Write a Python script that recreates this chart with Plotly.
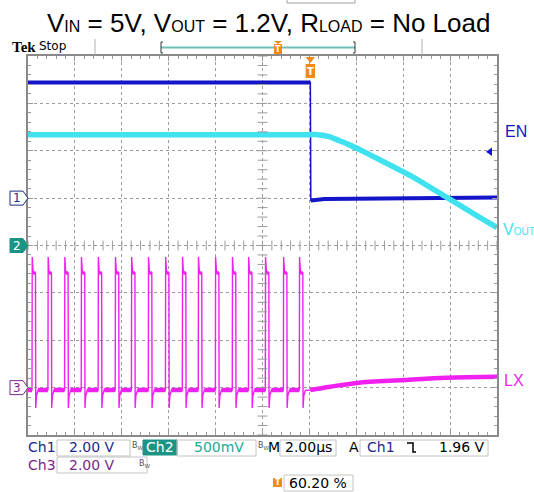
import numpy as np
import plotly.graph_objects as go

# ---------------- data ----------------
time_per_div_us = 2.0
n_hdiv, n_vdiv = 10, 8
trigger_pos_pct = 60.20
ch1_volts_per_div, ch1_ground_div = 2.0, 5.0
ch2_volts_per_div, ch2_ground_div = 0.5, 4.0
ch3_volts_per_div, ch3_ground_div = 2.0, 1.0
trigger_level_v = 1.96

t_min = -trigger_pos_pct / 100 * n_hdiv * time_per_div_us
t_max = t_min + n_hdiv * time_per_div_us

# CH1: EN (V)
en_high_t = [t_min, 0.0]
en_high_v = [4.88, 4.88]
en_low_t = [0.02, 0.6, t_max]
en_low_v = [-0.10, -0.04, 0.03]

# CH2: VOUT (V)
vout_t = [t_min, 0.0, 0.3, 0.8, 1.2, 1.6, 2.2, 3.0, 4.4, 5.8, 7.2, t_max]
vout_v = [1.17, 1.17, 1.17, 1.15, 1.11, 1.07, 1.00, 0.90, 0.72, 0.51, 0.30, 0.19]

# CH3: LX (V) - switching pulses then tail
lx_rise_t = [-11.87, -11.19, -10.48, -9.77, -9.05, -8.32, -7.63, -6.91, -6.18,
             -5.46, -4.78, -4.05, -3.33, -2.64, -1.92, -1.15, -0.47]
lx_pulse_rel_t = [0.0, 0.01, 0.05, 0.15, 0.16, 0.19, 0.26]
lx_pulse_rel_v = [-0.10, 5.51, 4.84, 4.84, -0.86, -0.35, -0.10]
lx_low_v = -0.10
lx_tail_t = [-0.21, 0.0, 0.85, 2.0, 4.0, 5.8, t_max]
lx_tail_v = [-0.12, -0.10, 0.04, 0.20, 0.32, 0.42, 0.46]

# colours
C_EN = "#1414c8"
C_VOUT = "#40e2f0"
C_LX = "#f020f0"
C_CH1TXT = "#1e2a8a"
C_CH3TXT = "#7a2a8a"
C_TEAL = "#1a9585"
C_ORANGE = "#f08a1c"
C_FRAME = "#8a8a8a"

# ---------------- helpers ----------------
W, H = 534, 492
PL, PR, PT, PB = 28, 497, 56, 435


def PX(x):
    return (x - PL) / (PR - PL)


def PY(y):
    return (PB - y) / (PB - PT)


def to_div(v, ground, scale):
    return [None if a is None else ground + a / scale for a in v]


# LX waveform assembled from the pulse list
lx_t, lx_v = [t_min], [lx_low_v]
low_t, low_v, high_t, high_v = [t_min], [lx_low_v], [], []
for t0 in lx_rise_t:
    low_t += [t0, None]
    low_v += [lx_low_v, None]
    for rt, rv in zip(lx_pulse_rel_t, lx_pulse_rel_v):
        lx_t.append(t0 + rt)
        lx_v.append(rv)
    high_t += [t0 + lx_pulse_rel_t[2], t0 + lx_pulse_rel_t[3], None]
    high_v += [lx_pulse_rel_v[2], lx_pulse_rel_v[3], None]
    low_t.append(t0 + lx_pulse_rel_t[-1])
    low_v.append(lx_low_v)
low_t = low_t[:-1]
low_v = low_v[:-1]
lx_t += lx_tail_t
lx_v += lx_tail_v

fig = go.Figure()

# CH1 EN
fig.add_trace(go.Scatter(x=en_high_t + en_low_t, y=to_div(en_high_v + en_low_v, ch1_ground_div, ch1_volts_per_div),
                         mode="lines", line=dict(color=C_EN, width=1.5), hoverinfo="skip"))
fig.add_trace(go.Scatter(x=en_high_t + [None] + en_low_t,
                         y=to_div(en_high_v + [None] + en_low_v, ch1_ground_div, ch1_volts_per_div),
                         mode="lines", line=dict(color=C_EN, width=4), hoverinfo="skip"))
# CH2 VOUT
fig.add_trace(go.Scatter(x=vout_t, y=to_div(vout_v, ch2_ground_div, ch2_volts_per_div),
                         mode="lines", line=dict(color=C_VOUT, width=5.5, shape="spline", smoothing=0.6),
                         hoverinfo="skip"))
# CH3 LX
fig.add_trace(go.Scatter(x=lx_t, y=to_div(lx_v, ch3_ground_div, ch3_volts_per_div),
                         mode="lines", line=dict(color=C_LX, width=1.4), hoverinfo="skip"))
fig.add_trace(go.Scatter(x=low_t, y=to_div(low_v, ch3_ground_div, ch3_volts_per_div),
                         mode="lines", line=dict(color=C_LX, width=4.5), hoverinfo="skip"))
fig.add_trace(go.Scatter(x=high_t, y=to_div(high_v, ch3_ground_div, ch3_volts_per_div),
                         mode="lines", line=dict(color=C_LX, width=3.5), hoverinfo="skip"))
fig.add_trace(go.Scatter(x=lx_tail_t[1:], y=to_div(lx_tail_v[1:], ch3_ground_div, ch3_volts_per_div),
                         mode="lines", line=dict(color=C_LX, width=4.5, shape="spline"), hoverinfo="skip"))

# centre-cross graticule ticks
t_center = t_min + n_hdiv / 2 * time_per_div_us
mt = np.arange(0, n_hdiv * 5 + 1) * time_per_div_us / 5 + t_min
my = np.arange(0, n_vdiv * 5 + 1) / 5
fig.add_trace(go.Scatter(x=mt, y=[n_vdiv / 2] * len(mt), mode="markers",
                         marker=dict(symbol="line-ns", size=7, line=dict(color="#9a9a9a", width=1)),
                         hoverinfo="skip"))
fig.add_trace(go.Scatter(x=[t_center] * len(my), y=my, mode="markers",
                         marker=dict(symbol="line-ew", size=7, line=dict(color="#9a9a9a", width=1)),
                         hoverinfo="skip"))

axis_common = dict(showticklabels=False, showgrid=True, gridcolor="#9c9c9c", griddash="dot", gridwidth=1,
                   zeroline=False, showline=True, linecolor=C_FRAME, linewidth=2, mirror="ticks",
                   ticks="inside", ticklen=5, tickcolor="#9a9a9a", tickwidth=1, fixedrange=True)
fig.update_xaxes(range=[t_min, t_max], tickmode="linear", tick0=t_min, dtick=time_per_div_us,
                 minor=dict(tickmode="linear", tick0=t_min, dtick=time_per_div_us / 5, ticks="inside",
                            ticklen=3, tickcolor="#9a9a9a", showgrid=False), **axis_common)
fig.update_yaxes(range=[0, n_vdiv], tickmode="linear", tick0=0, dtick=1,
                 minor=dict(tickmode="linear", tick0=0, dtick=0.2, ticks="inside", ticklen=3,
                            tickcolor="#9a9a9a", showgrid=False), **axis_common)

shapes, ann = [], []


def note(x, y, s, color, size, family="Liberation Sans", xanchor="center", xref="paper", yref="paper"):
    ann.append(dict(x=x, y=y, xref=xref, yref=yref, showarrow=False, xanchor=xanchor, yanchor="middle",
                    text=s, font=dict(family=family, size=size, color=color)))


SUB = "<span style='font-size:16px'>%s</span>"
note(PX(268), PY(23), "V" + SUB % "IN" + " = 5V, V" + SUB % "OUT" + " = 1.2V, R" + SUB % "LOAD" + " = No Load",
     "black", 26)

# header
note(PX(10), PY(47), "<b>Tek</b>", "black", 15, family="Liberation Serif", xanchor="left")
note(PX(37), PY(46), "Stop", "black", 12, family="DejaVu Sans", xanchor="left")
for xx in (95, 422):
    shapes.append(dict(type="line", xref="paper", yref="paper", x0=PX(xx), x1=PX(xx), y0=PY(39), y1=PY(55),
                       line=dict(color="#b0b0b0", width=1)))
shapes.append(dict(type="line", xref="paper", yref="paper", x0=PX(161), x1=PX(355), y0=PY(47.5), y1=PY(47.5),
                   line=dict(color="#6cc0b8", width=2)))
for xx, d in ((161, 1), (355, -1)):
    shapes.append(dict(type="path", xref="paper", yref="paper",
                       path=f"M {PX(xx + 2 * d)},{PY(42)} L {PX(xx)},{PY(42)} L {PX(xx)},{PY(53)} L {PX(xx + 2 * d)},{PY(53)}",
                       line=dict(color="#333", width=1)))
shapes.append(dict(type="path", xref="paper", yref="paper",
                   path=f"M {PX(274)},{PY(41)} L {PX(282)},{PY(41)} L {PX(278)},{PY(44)} Z",
                   fillcolor=C_ORANGE, line=dict(width=0)))
shapes.append(dict(type="rect", xref="paper", yref="paper", x0=PX(274), x1=PX(282), y0=PY(44), y1=PY(54),
                   fillcolor=C_ORANGE, line=dict(width=0)))
note(PX(278), PY(49), "<b>T</b>", "white", 8, family="DejaVu Sans")
shapes.append(dict(type="rect", xref="paper", yref="paper", x0=PX(287), x1=PX(355), y0=PY(-10), y1=PY(3),
                   line=dict(color="#a0a0a0", width=1)))

# trigger position marker
shapes.append(dict(type="path", xref="x", yref="paper",
                   path=f"M -0.2,{PY(57)} L 0.2,{PY(57)} L 0,{PY(63)} Z", fillcolor=C_ORANGE, line=dict(width=0)))
shapes.append(dict(type="rect", xref="x", yref="paper", x0=-0.2, x1=0.2, y0=PY(64), y1=PY(78),
                   fillcolor=C_ORANGE, line=dict(width=0)))
note(0, PY(71), "<b>T</b>", "white", 10, family="DejaVu Sans", xref="x")

# trigger level arrow (CH1)
tl = ch1_ground_div + trigger_level_v / ch1_volts_per_div
shapes.append(dict(type="path", xref="paper", yref="y",
                   path=f"M {PX(486)},{tl} L {PX(492)},{tl + 0.09} L {PX(492)},{tl - 0.09} Z",
                   fillcolor=C_EN, line=dict(width=0)))

# channel ground markers
hh = 7 / 47.375
for g, num, fill, edge, tc in ((ch1_ground_div, "1", "white", C_CH1TXT, C_CH1TXT),
                               (ch2_ground_div, "2", C_TEAL, C_TEAL, "white"),
                               (ch3_ground_div, "3", "white", C_CH3TXT, C_CH3TXT)):
    shapes.append(dict(type="path", xref="paper", yref="y",
                       path=f"M {PX(10)},{g + hh} L {PX(23)},{g + hh} L {PX(28)},{g} L {PX(23)},{g - hh} L {PX(10)},{g - hh} Z",
                       fillcolor=fill, line=dict(color=edge, width=1)))
    note(PX(16.5), g, num, tc, 12, family="DejaVu Sans", yref="y")

# right-side labels
note(PX(503), PY(131), "EN", C_EN, 16, xanchor="left")
note(PX(501), PY(229), "V<span style='font-size:10px'>OUT</span>", C_VOUT, 16, xanchor="left")
note(PX(502), PY(380), "LX", C_LX, 16, xanchor="left")

# status bar
SF = "DejaVu Sans"


def box(x0, x1, y0, y1, fill=None, edge="#c4c4c4"):
    shapes.append(dict(type="rect", xref="paper", yref="paper", x0=PX(x0), x1=PX(x1), y0=PY(y1), y1=PY(y0),
                       fillcolor=fill if fill else "rgba(0,0,0,0)", line=dict(color=edge, width=1)))


def txt(x, y, s, color, size=14, anchor="left"):
    note(PX(x), PY(y), s, color, size, family=SF, xanchor=anchor)


box(57, 130, 440, 456)
box(143, 177, 440, 455, fill=C_TEAL, edge=C_TEAL)
box(177, 256, 440, 456)
box(280, 336, 440, 456)
box(360, 488, 440, 456)
box(57, 147, 457, 473)
box(284, 353, 475, 491)
shapes.append(dict(type="rect", xref="paper", yref="paper", x0=PX(273), x1=PX(282), y0=PY(487), y1=PY(478),
                   fillcolor=C_ORANGE, line=dict(width=0)))
note(PX(277.5), PY(482.5), "<b>T</b>", "white", 8, family=SF)

txt(26, 447, "Ch1", C_CH1TXT)
txt(67, 447, "2.00 V", C_CH1TXT)
txt(130, 446, "B<sub>W</sub>", "#555", size=8)
txt(144, 447, "Ch2", "white")
txt(192, 447, "500mV", "#1faa98")
txt(255.5, 446, "B<sub>W</sub>", "#555", size=8)
txt(266, 447, "M", "black")
txt(283, 447, "2.00µs", "black")
txt(347, 447, "A", "black")
txt(365, 447, "Ch1", C_CH1TXT)
shapes.append(dict(type="path", xref="paper", yref="paper",
                   path=f"M {PX(407)},{PY(443)} L {PX(413)},{PY(443)} L {PX(413)},{PY(452)} L {PX(416)},{PY(452)}",
                   line=dict(color="black", width=1.5)))
txt(487, 447, "1.96 V", "black", anchor="right")
txt(26, 465, "Ch3", C_CH3TXT)
txt(67, 465, "2.00 V", C_CH3TXT)
txt(137, 464, "B<sub>W</sub>", "#555", size=8)
txt(287, 483, "60.20 %", "black")

fig.update_layout(width=W, height=H, margin=dict(l=PL, r=W - PR, t=PT, b=H - PB),
                  paper_bgcolor="white", plot_bgcolor="white", showlegend=False,
                  shapes=shapes, annotations=ann)

fig.write_html("out.html", config={"displayModeBar": False},
               post_script="document.body.style.margin='0px';")
